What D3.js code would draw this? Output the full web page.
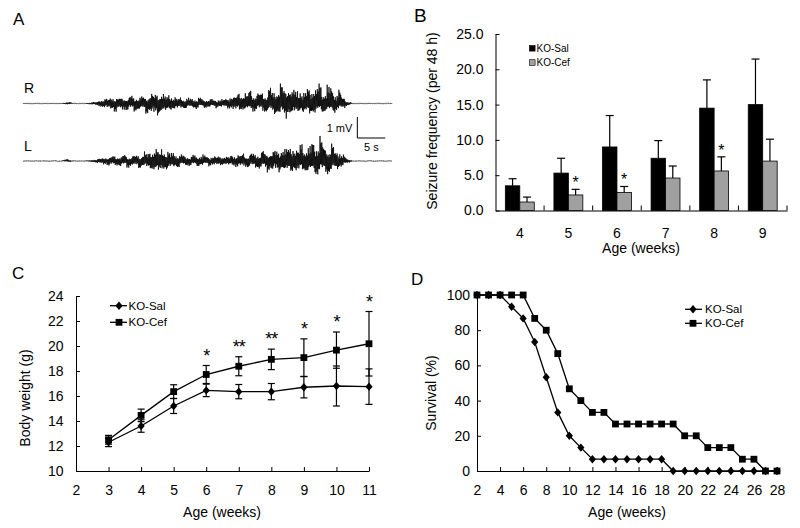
<!DOCTYPE html>
<html><head><meta charset="utf-8">
<script src="https://cdn.jsdelivr.net/npm/d3@7"></script>
<style>body{margin:0;background:#fff}svg{display:block}text{font-family:"Liberation Sans",Arial,sans-serif;fill:#000}</style>
</head><body>
<script>
// ---------- Panel A: EEG envelopes (mV), one value per second ----------
const eegTime = d3.range(0, 67); // seconds
const rUp = [0.02,0.02,0.02,0.02,0.02,0.02,0.02,0.02,0.14,0.02,0.02,0.02,0.07,0.10,0.24,0.33,0.38,0.33,0.38,0.38,0.43,0.38,0.43,0.57,0.62,0.57,0.52,0.43,0.33,0.33,0.29,0.33,0.29,0.29,0.24,0.24,0.29,0.43,0.57,0.67,0.71,0.76,0.62,0.71,0.76,0.86,1.05,1.10,0.95,0.86,0.76,0.86,1.14,1.05,0.90,1.00,0.81,0.57,0.14,0.02,0.02,0.02,0.02,0.02,0.02,0.02,0.02];
const rDown = [0.02,0.02,0.02,0.02,0.02,0.02,0.02,0.02,0.05,0.02,0.02,0.02,0.05,0.10,0.24,0.29,0.43,0.48,0.38,0.38,0.43,0.43,0.48,0.67,0.71,0.57,0.48,0.38,0.33,0.29,0.29,0.29,0.24,0.24,0.24,0.24,0.24,0.33,0.38,0.43,0.38,0.43,0.38,0.43,0.52,0.62,0.67,0.81,0.71,0.57,0.52,0.71,0.57,0.52,0.48,0.57,0.43,0.38,0.14,0.02,0.02,0.02,0.02,0.02,0.02,0.02,0.02];
const lUp = [0.02,0.02,0.02,0.02,0.02,0.02,0.02,0.02,0.14,0.02,0.02,0.02,0.05,0.10,0.19,0.24,0.29,0.29,0.33,0.29,0.33,0.38,0.48,0.67,0.76,0.67,0.57,0.48,0.38,0.33,0.29,0.33,0.38,0.29,0.29,0.33,0.29,0.33,0.38,0.43,0.38,0.43,0.48,0.52,0.57,0.62,0.71,0.86,0.90,0.81,0.95,0.86,1.05,1.38,0.90,0.86,0.71,0.48,0.14,0.02,0.02,0.02,0.02,0.02,0.02,0.02,0.02];
const lDown = [0.02,0.02,0.02,0.02,0.02,0.02,0.02,0.02,0.05,0.02,0.02,0.02,0.05,0.10,0.19,0.24,0.29,0.29,0.33,0.33,0.33,0.38,0.43,0.57,0.71,0.62,0.52,0.43,0.33,0.29,0.29,0.29,0.29,0.24,0.29,0.29,0.24,0.29,0.33,0.38,0.33,0.38,0.43,0.48,0.57,0.67,0.62,0.67,0.71,0.67,0.62,0.71,0.81,0.67,0.71,0.76,0.52,0.38,0.14,0.02,0.02,0.02,0.02,0.02,0.02,0.02,0.02];
const eegLabels = ["R", "L"];
const scaleBarMV = 1, scaleBarS = 5;

// ---------- Panel B: seizure frequency ----------
const bCats = [4,5,6,7,8,9];
const bSal = [3.5,5.3,9.0,7.4,14.5,15.0];
const bSalErr = [1.0,2.1,4.45,2.5,4.0,6.45];
const bCef = [1.2,2.2,2.55,4.6,5.6,7.0];
const bCefErr = [0.7,0.8,0.85,1.7,2.0,3.1];
const bSig = ["","*","*","","*",""];
const bYTicks = [0,5,10,15,20,25];

// ---------- Panel C: body weight ----------
const cWeeks = [3,4,5,6,7,8,9,10,11];
const cSal = [12.3,13.6,15.2,16.45,16.35,16.35,16.7,16.8,16.75];
const cSalErr = [0.35,0.5,0.6,0.5,0.57,0.65,0.85,1.6,1.42];
const cCef = [12.5,14.45,16.35,17.72,18.38,18.93,19.07,19.67,20.18];
const cCefErr = [0.35,0.5,0.55,0.72,0.76,0.82,1.5,1.45,2.58];
const cSig = ["","","","*","**","**","*","*","*"];
const cXTicks = [2,3,4,5,6,7,8,9,10,11];
const cYTicks = [10,12,14,16,18,20,22,24];

// ---------- Panel D: survival ----------
const dWeeks = d3.range(2, 29);
const dSal = [100,100,100,93.3,86.7,73.3,53.3,33.3,20,13.3,6.7,6.7,6.7,6.7,6.7,6.7,6.7,0,0,0,0,0,0,0,0,0,0];
const dCef = [100,100,100,100,100,86.7,80,66.7,46.7,40,33.3,33.3,26.7,26.7,26.7,26.7,26.7,26.7,20,20,13.3,13.3,13.3,6.7,6.7,0,0];
const dXTicks = d3.range(2, 29, 2);
const dYTicks = [0,20,40,60,80,100];
const seriesNames = ["KO-Sal","KO-Cef"];

const svg = d3.select("body").append("svg").attr("width",800).attr("height",528);
const FONT = 14;

function diamond(g, x, y){ g.append("path").attr("d",`M${x},${y-4.2}L${x+3.6},${y}L${x},${y+4.2}L${x-3.6},${y}Z`).attr("fill","#000"); }
function square(g, x, y){ g.append("rect").attr("x",x-3.4).attr("y",y-3.4).attr("width",6.8).attr("height",6.8).attr("fill","#000"); }
function panelLabel(t,x,y,s){ svg.append("text").attr("x",x).attr("y",y).attr("font-size",s).text(t); }

// ================= Panel A =================
panelLabel("A",13,25,17);
const xA = d3.scaleLinear().domain([0,66]).range([23,392]);
const mvPx = 21; // pixels per mV
// drawing texture for the oscillation inside the envelope (three coprime cycles)
const texA = [1,0.5,0.8,0.35,0.95,0.6,0.7,0.4,0.9,0.55,0.75,0.45,0.85];
const texB = [1,0.7,0.9,0.6,0.8,0.95,0.65,0.85,0.75,1,0.7];
const texC = [1,0.85,0.95,0.7,1,0.9,0.8];
[[rUp,rDown,103.5],[lUp,lDown,161]].forEach(([up,dn,base],k)=>{
  const yA = d3.scaleLinear().domain([-1,1]).range([base+mvPx, base-mvPx]);
  const envU = d3.scaleLinear().domain(eegTime).range(up);
  const envD = d3.scaleLinear().domain(eegTime).range(dn);
  const pts = [];
  const dt = 0.45 / (xA(1)-xA(0));
  let i = 0;
  for (let t = 0; t <= 66; t += dt, i++) {
    const f = texA[(i+3*k) % 13] * texB[(i+5*k) % 11] * texC[i % 7];
    const v = (i % 2 === 0) ? envU(t)*f : -envD(t)*f;
    pts.push([xA(t), yA(v)]);
  }
  svg.append("path").attr("d", d3.line()(pts)).attr("fill","none").attr("stroke","#000").attr("stroke-width",0.75);
  svg.append("text").attr("x",24).attr("y",base-10.5).attr("font-size",14).text(eegLabels[k]);
});
// scale bar
{
  const t0 = 59.8, yb = 138;
  const x0 = xA(t0), x1 = xA(t0+scaleBarS);
  svg.append("path").attr("d",`M${x0},${yb-scaleBarMV*mvPx}V${yb}H${x1}`).attr("fill","none").attr("stroke","#000").attr("stroke-width",1);
  svg.append("text").attr("x",x0-5).attr("y",132).attr("font-size",11).attr("text-anchor","end").text(scaleBarMV+" mV");
  svg.append("text").attr("x",(x0+x1)/2).attr("y",151).attr("font-size",11).attr("text-anchor","middle").text(scaleBarS+" s");
}

// ================= Panel B =================
panelLabel("B",414,22,19);
const xB = d3.scaleBand().domain(bCats).range([495.5,787]).padding(0);
const xSub = d3.scaleBand().domain(seriesNames).range([0,xB.bandwidth()]).paddingInner(0).paddingOuter(0.68);
const yB = d3.scaleLinear().domain([0,25]).range([210.5,34]);
const gB = svg.append("g");
gB.append("g").attr("transform","translate(495.5,0)")
  .call(d3.axisLeft(yB).tickValues(bYTicks).tickFormat(d3.format(".1f")).tickSizeInner(-4).tickSizeOuter(0).tickPadding(12))
  .call(g=>{g.selectAll("text").attr("font-size",FONT).attr("font-family",null);g.selectAll("line,path").attr("stroke","#000");});
gB.append("g").attr("transform","translate(0,210.5)")
  .call(d3.axisBottom(xB).tickSize(0).tickPadding(17.5))
  .call(g=>{g.selectAll("text").attr("font-size",FONT).attr("font-family",null);g.select("path").attr("stroke","#000");});
bCats.forEach(c=>{
  const xe = xB(c)+xB.bandwidth();
  gB.append("line").attr("x1",xe).attr("x2",xe).attr("y1",210.5).attr("y2",205.5).attr("stroke","#000");
});
[[bSal,bSalErr,"#000",seriesNames[0]],[bCef,bCefErr,"#a0a0a0",seriesNames[1]]].forEach(([vals,errs,col,name])=>{
  bCats.forEach((c,i)=>{
    const x = xB(c)+xSub(name), w = xSub.bandwidth(), cx = x+w/2;
    gB.append("line").attr("x1",cx).attr("x2",cx).attr("y1",yB(vals[i])).attr("y2",yB(vals[i]+errs[i])).attr("stroke","#000").attr("stroke-width",1.2);
    gB.append("line").attr("x1",cx-4).attr("x2",cx+4).attr("y1",yB(vals[i]+errs[i])).attr("y2",yB(vals[i]+errs[i])).attr("stroke","#000").attr("stroke-width",1.2);
    gB.append("rect").attr("x",x).attr("y",yB(vals[i])).attr("width",w).attr("height",yB(0)-yB(vals[i])).attr("fill",col).attr("stroke","#000").attr("stroke-width",0.8);
  });
});
bCats.forEach((c,i)=>{
  if(!bSig[i]) return;
  const cx = xB(c)+xSub(seriesNames[1])+xSub.bandwidth()/2;
  gB.append("text").attr("x",cx).attr("y",yB(bCef[i]+bCefErr[i])-10+9).attr("font-size",16).attr("text-anchor","middle").text(bSig[i]);
});
gB.append("text").attr("transform","translate(437,121) rotate(-90)").attr("text-anchor","middle").attr("font-size",FONT).text("Seizure frequency (per 48 h)");
gB.append("text").attr("x",641).attr("y",253).attr("text-anchor","middle").attr("font-size",FONT).text("Age (weeks)");
[["#000",48.3],["#a0a0a0",62.5]].forEach(([col,y],k)=>{
  gB.append("rect").attr("x",529.5).attr("y",y-2.8).attr("width",5.6).attr("height",5.6).attr("fill",col).attr("stroke","#000").attr("stroke-width",0.6);
  gB.append("text").attr("x",536.5).attr("y",y+3.5).attr("font-size",10).text(seriesNames[k]);
});

// ================= Panel C =================
panelLabel("C",12,279,17);
const xC = d3.scaleLinear().domain([2,11]).range([76,369]);
const yC = d3.scaleLinear().domain([10,24]).range([471,296]);
const gC = svg.append("g");
gC.append("g").attr("transform","translate(76,0)")
  .call(d3.axisLeft(yC).tickValues(cYTicks).tickSizeInner(-4).tickSizeOuter(0).tickPadding(12.5))
  .call(g=>{g.selectAll("text").attr("font-size",FONT).attr("font-family",null);g.selectAll("line,path").attr("stroke","#000");});
gC.append("g").attr("transform","translate(0,471)")
  .call(d3.axisBottom(xC).tickValues(cXTicks).tickSizeInner(-4).tickSizeOuter(0).tickPadding(14))
  .call(g=>{g.selectAll("text").attr("font-size",FONT).attr("font-family",null);g.selectAll("line,path").attr("stroke","#000");});
[[cSal,cSalErr,diamond],[cCef,cCefErr,square]].forEach(([vals,errs,mk])=>{
  cWeeks.forEach((w,i)=>{
    const x = xC(w);
    gC.append("line").attr("x1",x).attr("x2",x).attr("y1",yC(vals[i]-errs[i])).attr("y2",yC(vals[i]+errs[i])).attr("stroke","#000").attr("stroke-width",1.2);
    [vals[i]-errs[i],vals[i]+errs[i]].forEach(v=>gC.append("line").attr("x1",x-3.5).attr("x2",x+3.5).attr("y1",yC(v)).attr("y2",yC(v)).attr("stroke","#000").attr("stroke-width",1.2));
  });
  gC.append("path").attr("d",d3.line().x((d,i)=>xC(cWeeks[i])).y(d=>yC(d))(vals)).attr("fill","none").attr("stroke","#000").attr("stroke-width",1.3);
  cWeeks.forEach((w,i)=>mk(gC,xC(w),yC(vals[i])));
});
cWeeks.forEach((w,i)=>{
  if(!cSig[i]) return;
  gC.append("text").attr("x",xC(w)).attr("y",yC(cCef[i]+cCefErr[i])-14+10).attr("font-size",18).attr("text-anchor","middle").attr("letter-spacing",-1).text(cSig[i]);
});
gC.append("text").attr("transform","translate(30,398) rotate(-90)").attr("text-anchor","middle").attr("font-size",FONT).text("Body weight (g)");
gC.append("text").attr("x",222).attr("y",517).attr("text-anchor","middle").attr("font-size",FONT).text("Age (weeks)");
[[diamond,305.7],[square,322.3]].forEach(([mk,y],k)=>{
  gC.append("line").attr("x1",110).attr("x2",127).attr("y1",y).attr("y2",y).attr("stroke","#000").attr("stroke-width",1.3);
  mk(gC,119,y);
  gC.append("text").attr("x",128.5).attr("y",y+4).attr("font-size",11.5).text(seriesNames[k]);
});

// ================= Panel D =================
panelLabel("D",411,285,17);
const xD = d3.scaleLinear().domain([2,28]).range([477,777]);
const yD = d3.scaleLinear().domain([0,100]).range([471,295]);
const gD = svg.append("g");
gD.append("g").attr("transform","translate(477,0)")
  .call(d3.axisLeft(yD).tickValues(dYTicks).tickSizeInner(-4).tickSizeOuter(0).tickPadding(7))
  .call(g=>{g.selectAll("text").attr("font-size",FONT).attr("font-family",null);g.selectAll("line,path").attr("stroke","#000");});
gD.append("g").attr("transform","translate(0,471)")
  .call(d3.axisBottom(xD).tickValues(dXTicks).tickSizeInner(-4).tickSizeOuter(0).tickPadding(14))
  .call(g=>{g.selectAll("text").attr("font-size",FONT).attr("font-family",null);g.selectAll("line,path").attr("stroke","#000");});
[[dSal,diamond],[dCef,square]].forEach(([vals,mk])=>{
  gD.append("path").attr("d",d3.line().x((d,i)=>xD(dWeeks[i])).y(d=>yD(d))(vals)).attr("fill","none").attr("stroke","#000").attr("stroke-width",1.3);
  dWeeks.forEach((w,i)=>mk(gD,xD(w),yD(vals[i])));
});
gD.append("text").attr("transform","translate(436,393) rotate(-90)").attr("text-anchor","middle").attr("font-size",FONT).text("Survival (%)");
gD.append("text").attr("x",627).attr("y",517).attr("text-anchor","middle").attr("font-size",FONT).text("Age (weeks)");
[[diamond,309.3],[square,323.3]].forEach(([mk,y],k)=>{
  gD.append("line").attr("x1",685).attr("x2",702).attr("y1",y).attr("y2",y).attr("stroke","#000").attr("stroke-width",1.3);
  mk(gD,693,y);
  gD.append("text").attr("x",705).attr("y",y+4).attr("font-size",11.5).text(seriesNames[k]);
});
</script>
</body></html>
